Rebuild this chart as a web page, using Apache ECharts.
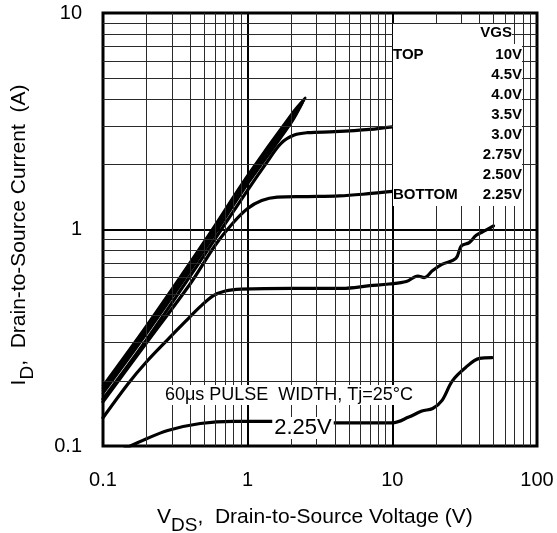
<!DOCTYPE html>
<html>
<head>
<meta charset="utf-8">
<script src="https://cdn.jsdelivr.net/npm/echarts@6/dist/echarts.min.js"></script>
<style>
html,body{margin:0;padding:0;background:#fff;}
#c{width:557px;height:533px;}
</style>
</head>
<body>
<div id="c"></div>
<script>
// ---- data ----
const xTicks = [0.1, 1, 10, 100];
const yTicks = [0.1, 1, 10];
const xMinor = [0.2,0.3,0.4,0.5,0.6,0.7,0.8,0.9,2,3,4,5,6,7,8,9,20,30,40,50,60,70,80,90];
const yMinor = [0.2,0.3,0.4,0.5,0.6,0.7,0.8,0.9,2,3,4,5,6,7,8,9];

const seriesNames = ['10V','4.5V','4.0V','3.5V','3.0V','2.75V','2.50V','2.25V'];

const vgs10 = [[0.1,0.19],[0.2,0.36],[0.5,0.88],[1,1.78],[2,3.4],[2.5,4.05]];
const vgs45 = [[0.1,0.185],[0.2,0.35],[0.5,0.86],[1,1.74],[2,3.3],[2.45,3.95]];
const vgs40 = [[0.1,0.18],[0.2,0.34],[0.5,0.83],[1,1.68],[2,3.2],[2.4,3.85]];
const vgs35 = [[0.1,0.175],[0.2,0.33],[0.5,0.8],[1,1.62],[2,3.1],[2.35,3.75]];
const vgs30 = [[0.1,0.165],[0.2,0.31],[0.5,0.76],[1,1.52],[1.35,2.03],[1.7,2.5],[2.1,2.73],[2.6,2.8],[4,2.83],[7,2.9],[10,2.98]];
const vgs275 = [[0.1,0.16],[0.2,0.3],[0.4,0.56],[0.6,0.85],[0.8,1.08],[1,1.25],[1.25,1.36],[1.6,1.41],[2.5,1.42],[4.3,1.43],[6.6,1.46],[10,1.5]];
const vgs250 = [[0.1,0.135],[0.15,0.195],[0.2,0.245],[0.28,0.31],[0.37,0.375],[0.47,0.44],[0.58,0.495],[0.7,0.52],[0.9,0.53],[2,0.535],[4.5,0.535],[7,0.55],[9.5,0.56],[12.5,0.575],[15,0.61],[16.6,0.6],[19,0.646],[22,0.69],[27.5,0.735],[30,0.84],[34,0.87],[38,0.94],[44,0.99],[50,1.04]];
const vgs225 = [[0.14,0.097],[0.2,0.108],[0.28,0.118],[0.47,0.127],[0.8,0.13],[2,0.13],[3.9,0.128],[7,0.128],[10,0.128],[13,0.136],[16,0.145],[19,0.149],[22,0.162],[26,0.2],[32,0.23],[40,0.254],[49,0.256]];

const curves = [vgs10, vgs45, vgs40, vgs35, vgs30, vgs275, vgs250, vgs225];

const legendTitle = 'VGS';
const legendLabels = ['10V','4.5V','4.0V','3.5V','3.0V','2.75V','2.50V','2.25V'];
const noteText = '60\u03bcs PULSE  WIDTH, Tj=25\u00b0C';
const curveLabel = '2.25V';

// ---- chart ----
const FONT = '"Liberation Sans", Arial, Helvetica, sans-serif';
const chart = echarts.init(document.getElementById('c'), null, {renderer: 'canvas'});

const series = curves.map((d, i) => ({
  name: seriesNames[i],
  type: 'line',
  data: d,
  smooth: 0.35,
  showSymbol: false,
  symbol: 'none',
  z: 3,
  lineStyle: {color: '#000', width: i < 4 ? 2.6 : 3.2, cap: 'round', join: 'round'}
}));

series.unshift({
  name: 'grid',
  type: 'line',
  data: [],
  z: 1,
  silent: true,
  markLine: {
    silent: true,
    symbol: ['none', 'none'],
    animation: false,
    label: {show: false},
    lineStyle: {color: '#2a2a2a', width: 1, type: 'solid'},
    emphasis: {disabled: true},
    data: xMinor.map(v => ({xAxis: v})).concat(yMinor.map(v => ({yAxis: v})))
  }
});

const legendGraphics = [
  {type: 'rect', z: 20, shape: {x: 393, y: 24, width: 119, height: 20}, style: {fill: '#fff'}},
  {type: 'rect', z: 20, shape: {x: 393, y: 44, width: 129, height: 162}, style: {fill: '#fff'}},
  {type: 'text', z: 21, x: 512, y: 33, style: {text: legendTitle, font: 'bold 15px ' + FONT, fill: '#000', align: 'right', verticalAlign: 'middle'}},
  {type: 'text', z: 21, x: 393, y: 55, style: {text: 'TOP', font: 'bold 15px ' + FONT, fill: '#000', align: 'left', verticalAlign: 'middle'}},
  {type: 'text', z: 21, x: 393, y: 195, style: {text: 'BOTTOM', font: 'bold 15px ' + FONT, fill: '#000', align: 'left', verticalAlign: 'middle'}}
].concat(legendLabels.map((t, i) => ({
  type: 'text', z: 21, x: 522, y: 55 + i * 20,
  style: {text: t, font: 'bold 15px ' + FONT, fill: '#000', align: 'right', verticalAlign: 'middle'}
})));

const rich = {
  n: {fontFamily: FONT, fontSize: 21, color: '#000', lineHeight: 22, verticalAlign: 'top'},
  s: {fontFamily: FONT, fontSize: 19, color: '#000', lineHeight: 16, padding: [9, 0, 0, 0], verticalAlign: 'top'}
};

const option = {
  animation: false,
  backgroundColor: '#fff',
  grid: {left: 103, right: 20, top: 13, bottom: 87, show: true, borderColor: '#000', borderWidth: 3, backgroundColor: 'transparent'},
  xAxis: {
    type: 'log', logBase: 10, min: 0.1, max: 100,
    axisLine: {show: false},
    axisTick: {show: false},
    splitLine: {show: true, lineStyle: {color: '#000', width: 2}},
    axisLabel: {fontFamily: FONT, fontSize: 20, color: '#000', margin: 24,
      formatter: v => (xTicks.indexOf(+v.toPrecision(3)) >= 0 ? String(+v.toPrecision(3)) : '')}
  },
  yAxis: {
    type: 'log', logBase: 10, min: 0.1, max: 10,
    axisLine: {show: false},
    axisTick: {show: true, inside: true, length: 21, lineStyle: {color: '#000', width: 2}},
    splitLine: {show: true, lineStyle: {color: '#000', width: 2}},
    axisLabel: {fontFamily: FONT, fontSize: 20, color: '#000', margin: 21,
      formatter: v => (yTicks.indexOf(+v.toPrecision(3)) >= 0 ? String(+v.toPrecision(3)) : '')}
  },
  series: series,
  graphic: legendGraphics.concat([
    {type: 'text', z: 21, x: 289, y: 395,
      style: {text: noteText, font: '18px ' + FONT, fill: '#000', align: 'center', verticalAlign: 'middle',
        backgroundColor: '#fff', padding: [1, 2]}},
    {type: 'text', z: 21, x: 303, y: 428,
      style: {text: curveLabel, font: '22px ' + FONT, fill: '#000', align: 'center', verticalAlign: 'middle',
        backgroundColor: '#fff', padding: [0, 2]}},
    {type: 'text', z: 21, x: 157, y: 518,
      style: {text: '{n|V}{s|DS}{n|,  Drain-to-Source Voltage (V)}', rich: rich, align: 'left', verticalAlign: 'middle'}},
    {type: 'text', z: 21, x: 20, y: 235, rotation: Math.PI / 2,
      style: {text: '{n|I}{s|D}{n|,  Drain-to-Source Current  (A)}', rich: rich, align: 'center', verticalAlign: 'middle'}}
  ])
};

chart.setOption(option);
</script>
</body>
</html>
